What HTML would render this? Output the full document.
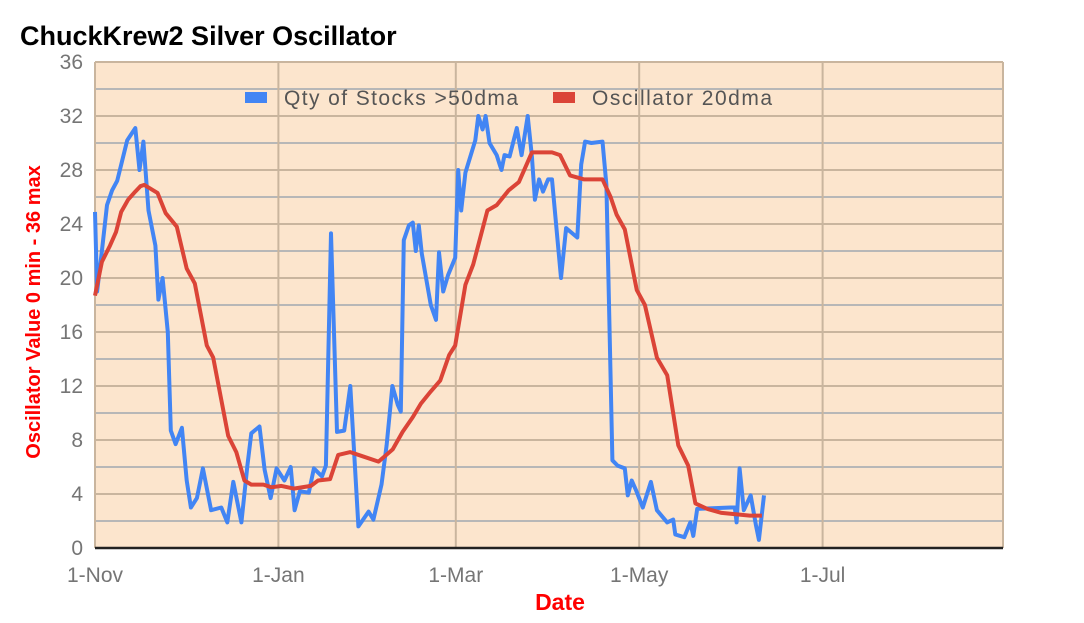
<!DOCTYPE html>
<html><head><meta charset="utf-8"><style>
body{margin:0;background:#fff;font-family:"Liberation Sans",sans-serif}
</style></head><body>
<svg width="1084" height="618" xmlns="http://www.w3.org/2000/svg" font-family="Liberation Sans, sans-serif">
<text x="20" y="45" font-size="27" font-weight="bold" fill="#000">ChuckKrew2 Silver Oscillator</text>
<rect x="95" y="62" width="908" height="486" fill="#fce5cd"/>
<g id="grid"></g>
<g id="series"></g>
<g id="legend">
<rect x="245" y="92" width="22" height="11" fill="#4285f4"/>
<text x="284" y="105" font-size="21" textLength="234" fill="#555">Qty of Stocks &gt;50dma</text>
<rect x="553" y="92" width="22" height="11" fill="#db4437"/>
<text x="592" y="105" font-size="21" textLength="180" fill="#555">Oscillator 20dma</text>
</g>
<text transform="translate(40,312) rotate(-90)" text-anchor="middle" font-size="20" font-weight="bold" fill="#ff0000">Oscillator Value 0 min - 36 max</text>
<text x="560" y="610" text-anchor="middle" font-size="23" font-weight="bold" fill="#ff0000">Date</text>
</svg>
<script>
const yTicks=[0,4,8,12,16,20,24,28,32,36];
const xTickDays=[0,61,120,181,242,304];
const xTickLabels=['1-Nov','1-Jan','1-Mar','1-May','1-Jul',''];
const qtyDays=[0,0.7,2.3,4,5.7,7.4,8.7,10.7,13.4,14.8,16.1,17.8,20.1,21.1,22.5,24.2,25.2,26.8,28.9,30.5,31.9,33.9,35.9,38.6,42,44,46,48.7,50.7,52,54.7,56.4,58.4,60.4,63,65.1,66.4,68.1,71.1,72.8,75.5,76.8,78.5,80.5,82.9,84.9,87.6,91,92.6,95.3,97,98.9,100.7,101.7,102.7,104.4,105.7,106.7,107.7,108.7,111.7,113.4,114.4,115.8,117.4,119.8,120.8,121.8,123.2,126.5,127.5,128.9,129.9,131.2,133.6,134.6,135.2,136.2,137.9,140.3,141.9,143.9,145.3,146.3,147.7,149,150.7,152,155,156.7,160.4,161.7,163,165.1,168.8,170.1,172.1,173.8,176.2,177.2,178.5,179.9,182.2,184.9,186.9,190.3,192.3,193,196,198,199,200.3,211.4,212.8,213.4,214.4,215.8,218.1,219.8,220.8,222.5];
const qtyValues=[24.9,19,22,25.4,26.5,27.2,28.4,30.2,31.1,28,30.1,25,22.4,18.4,20,16,8.7,7.7,8.9,5,3,3.7,5.9,2.8,3,1.9,4.9,1.9,6.1,8.5,9,5.8,3.7,5.9,5,6,2.8,4.2,4.1,5.9,5.3,6.1,23.3,8.6,8.7,12,1.6,2.7,2.1,4.7,7.6,12,10.6,10.1,22.8,23.9,24.1,22,23.9,21.8,18,16.9,21.9,19,20.2,21.5,28,25,27.8,30.2,32,31,32,30,29.1,28.4,28,29.1,29,31.1,29.1,32,29,25.8,27.3,26.4,27.3,27.3,20,23.7,23,28.4,30.1,30,30.1,26.9,6.5,6.1,5.9,3.9,5,4.3,3,4.9,2.8,1.9,2.1,1,0.8,1.9,0.9,2.9,3,3,1.9,5.9,2.8,3.9,1.7,0.6,3.9];
const oscDays=[0,2.3,5,7,8.7,11,13.4,15.1,16.4,20.8,23.5,27.2,30.5,33.2,37.2,39.3,44.3,47,49.7,52,56,58.7,62,66.1,71.8,74.2,78.2,80.9,84.9,88.9,94.3,99,102.3,105.7,108.4,111.7,114.8,117.8,119.8,123.2,125.8,130.5,133.6,137.6,141,145.3,148.7,152,154.7,158,162.7,168.8,171.5,173.5,176.2,180.2,182.9,186.9,190.3,194,197.3,199.7,203.7,208.4,213.1,217.8,221.8];
const oscValues=[18.7,21.2,22.4,23.4,24.9,25.8,26.4,26.8,26.9,26.3,24.8,23.8,20.7,19.6,15,14.1,8.3,7.1,5,4.7,4.7,4.5,4.6,4.4,4.6,5,5.1,6.9,7.1,6.8,6.4,7.3,8.6,9.7,10.7,11.6,12.4,14.3,15,19.5,21,25,25.4,26.5,27.1,29.3,29.3,29.3,29.1,27.6,27.3,27.3,26,24.7,23.6,19.1,18,14.1,12.8,7.6,6.1,3.3,2.9,2.6,2.5,2.4,2.4];
const X0=95,X1=1003,Y0=548,Y1=62,DMAX=302,VMAX=36;
const xs=d=>X0+d*(X1-X0)/DMAX, ys=v=>Y0-v*(Y0-Y1)/VMAX;
const NS='http://www.w3.org/2000/svg';
const grid=document.getElementById('grid'),ser=document.getElementById('series'),svg=document.querySelector('svg');
function mk(tag,attrs,parent){const e=document.createElementNS(NS,tag);for(const k in attrs)e.setAttribute(k,attrs[k]);parent.appendChild(e);return e;}
for(let v=2;v<VMAX;v+=4){const l=mk('line',{x1:X0,x2:X1,y1:ys(v),y2:ys(v),stroke:'#b7b7b7','stroke-width':2},grid);

}
yTicks.forEach(v=>{if(v>0){const l=mk('line',{x1:X0,x2:X1,y1:ys(v),y2:ys(v),stroke:'#c9b59e','stroke-width':2},grid);

}
const t=mk('text',{x:83,y:ys(v)+7,'text-anchor':'end','font-size':21,fill:'#757575'},svg);t.textContent=v;

});
xTickDays.forEach((d,i)=>{const x=i==xTickDays.length-1?X1:xs(d);const l=mk('line',{x1:x,x2:x,y1:Y1,y2:Y0,stroke:'#c9b59e','stroke-width':2},grid);


if(xTickLabels[i]){const t=mk('text',{x:xs(d),y:582,'text-anchor':'middle','font-size':21,fill:'#757575'},svg);t.textContent=xTickLabels[i];

}});
const ax=mk('line',{x1:X0,x2:X1,y1:Y0,y2:Y0,stroke:'#222','stroke-width':2.5},grid);


function path(days,vals,color,name){const d=days.map((dd,i)=>(i?'L':'M')+xs(dd).toFixed(1)+','+ys(vals[i]).toFixed(1)).join('');
const p=mk('path',{d:d,fill:'none',stroke:color,'stroke-width':4,'stroke-linejoin':'round'},ser);

}
path(qtyDays,qtyValues,'#4285f4','qty-stocks-line');
path(oscDays,oscValues,'#db4437','oscillator-line');
</script>
</body></html>
